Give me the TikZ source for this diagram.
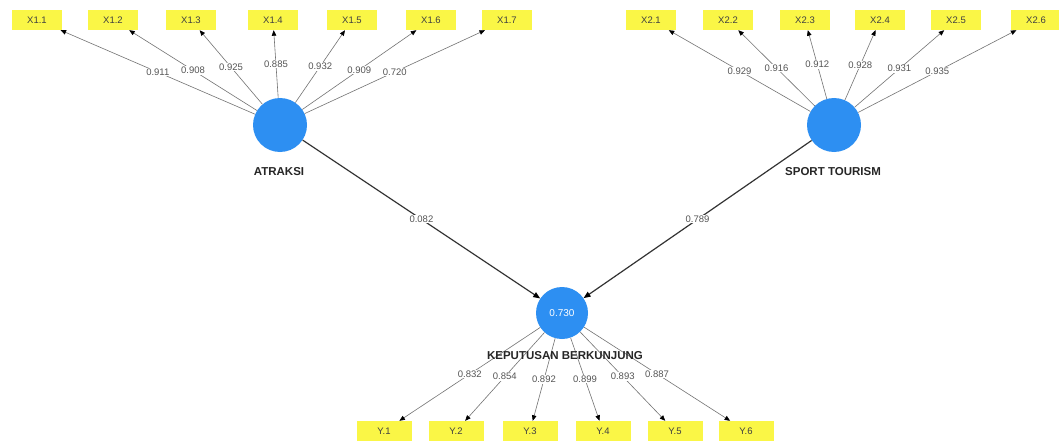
\documentclass[tikz,border=0pt]{standalone}
\usepackage{fontspec}
\setmainfont{Liberation Sans}
\usetikzlibrary{arrows.meta}
\definecolor{lvblue}{RGB}{45,143,242}
\definecolor{indyellow}{RGB}{250,246,70}
\definecolor{lblgray}{RGB}{85,85,85}
\begin{document}
\begin{tikzpicture}[x=1pt,y=-1pt,
  ind/.style={fill=indyellow, minimum width=50pt, minimum height=20pt, inner sep=0pt,
    font=\fontsize{9.5}{11}\selectfont, text=black!75},
  indy/.style={ind, minimum width=55pt},
  lat/.style={circle, fill=lvblue, minimum size=54pt, inner sep=0pt},
  latlbl/.style={font=\bfseries\fontsize{11.5}{13}\selectfont, text=black!85},
  load/.style={draw=black!55, line width=0.6pt, -{Triangle[length=5.5pt,width=4.5pt,color=black]}},
  struct/.style={draw=black!80, line width=1.2pt, -{Triangle[length=7pt,width=5.5pt,color=black]}},
  coef/.style={fill=white, inner sep=0.8pt, font=\fontsize{9.5}{11}\selectfont, text=lblgray}
]
\useasboundingbox (0,0) rectangle (1059,441);
\fill[white] (0,0) rectangle (1059,441);

% latent variables
\node[lat] (A) at (280,125) {};
\node[lat] (S) at (834,125) {};
\node[lat, minimum size=52pt, text=white, font=\fontsize{10}{12}\selectfont] (K) at (562,313) {0.730};

% indicators X1
\node[ind] (x11) at (37,20) {X1.1};
\node[ind] (x12) at (113,20) {X1.2};
\node[ind] (x13) at (191,20) {X1.3};
\node[ind] (x14) at (273,20) {X1.4};
\node[ind] (x15) at (352,20) {X1.5};
\node[ind] (x16) at (431,20) {X1.6};
\node[ind] (x17) at (507,20) {X1.7};
% indicators X2
\node[ind] (x21) at (651,20) {X2.1};
\node[ind] (x22) at (728,20) {X2.2};
\node[ind] (x23) at (805,20) {X2.3};
\node[ind] (x24) at (880,20) {X2.4};
\node[ind] (x25) at (956,20) {X2.5};
\node[ind] (x26) at (1036,20) {X2.6};
% indicators Y
\node[indy] (y1) at (384,431) {Y.1};
\node[indy] (y2) at (456,431) {Y.2};
\node[indy] (y3) at (530,431) {Y.3};
\node[indy] (y4) at (603,431) {Y.4};
\node[indy] (y5) at (675,431) {Y.5};
\node[indy] (y6) at (746,431) {Y.6};

% loadings ATRAKSI
\draw[load] (A) -- node[coef]{0.911} (x11);
\draw[load] (A) -- node[coef]{0.908} (x12);
\draw[load] (A) -- node[coef]{0.925} (x13);
\draw[load] (A) -- node[coef]{0.885} (x14);
\draw[load] (A) -- node[coef]{0.932} (x15);
\draw[load] (A) -- node[coef]{0.909} (x16);
\draw[load] (A) -- node[coef]{0.720} (x17);
% loadings SPORT TOURISM
\draw[load] (S) -- node[coef]{0.929} (x21);
\draw[load] (S) -- node[coef]{0.916} (x22);
\draw[load] (S) -- node[coef]{0.912} (x23);
\draw[load] (S) -- node[coef]{0.928} (x24);
\draw[load] (S) -- node[coef]{0.931} (x25);
\draw[load] (S) -- node[coef]{0.935} (x26);
% loadings KEPUTUSAN
\draw[load] (K) -- node[coef]{0.832} (y1);
\draw[load] (K) -- node[coef]{0.854} (y2);
\draw[load] (K) -- node[coef]{0.892} (y3);
\draw[load] (K) -- node[coef]{0.899} (y4);
\draw[load] (K) -- node[coef]{0.893} (y5);
\draw[load] (K) -- node[coef]{0.887} (y6);

% structural paths
\draw[struct] (A) -- node[coef]{0.082} (K);
\draw[struct] (S) -- node[coef]{0.789} (K);

% latent labels
\node[latlbl] (Alab) at (279,172) {ATRAKSI};
\node[latlbl] (Slab) at (833,172) {SPORT TOURISM};
\node[latlbl] (Klab) at (565,356) {KEPUTUSAN BERKUNJUNG};
\end{tikzpicture}
\end{document}
